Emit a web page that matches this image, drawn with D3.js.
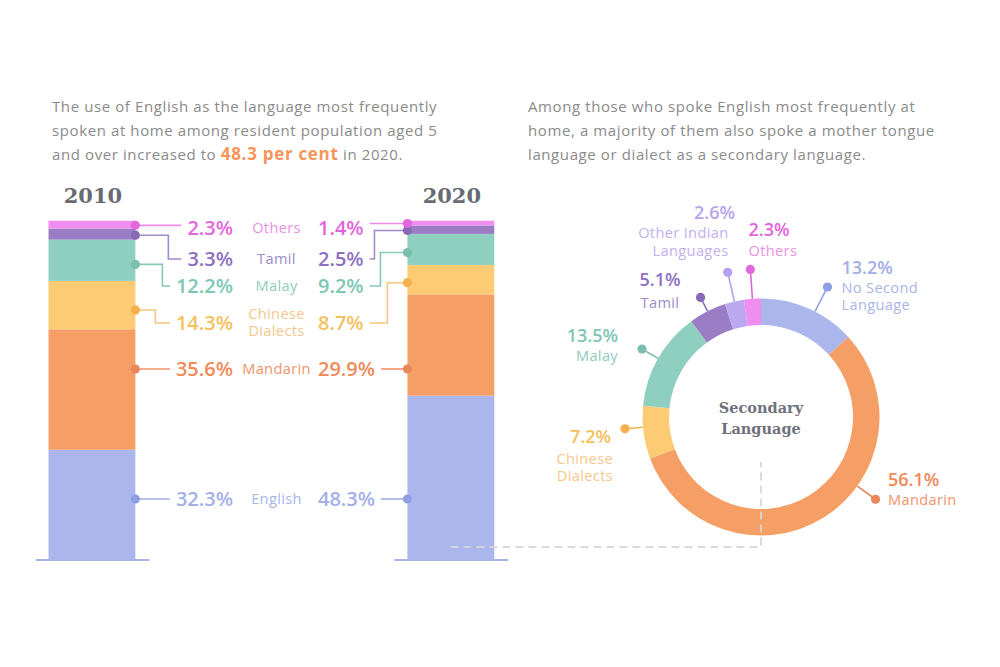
<!DOCTYPE html>
<html>
<head>
<meta charset="utf-8">
<script src="https://cdn.jsdelivr.net/npm/d3@7"></script>
<style>
  html, body { margin: 0; padding: 0; background: #ffffff; }
  svg { display: block; }
</style>
</head>
<body>
<svg id="chart" width="1000" height="667" font-family="'Open Sans', 'Noto Sans', sans-serif"></svg>
<script>
// ---------------- DATA ----------------
const years = ["2010", "2020"];
const languages = ["English", "Mandarin", "Chinese Dialects", "Malay", "Tamil", "Others"];
const share2010 = [32.3, 35.6, 14.3, 12.2, 3.3, 2.3];
const share2020 = [48.3, 29.9, 8.7, 9.2, 2.5, 1.4];

const secondaryCats = ["No Second Language", "Mandarin", "Chinese Dialects", "Malay", "Tamil", "Other Indian Languages", "Others"];
const secondaryShare = [13.2, 56.1, 7.2, 13.5, 5.1, 2.6, 2.3];

const introLeft = [
  "The use of English as the language most frequently",
  "spoken at home among resident population aged 5"
];
const introLeftLast = ["and over increased to ", "48.3 per cent", " in 2020."];
const introRight = [
  "Among those who spoke English most frequently at",
  "home, a majority of them also spoke a mother tongue",
  "language or dialect as a secondary language."
];
const centerTitle = ["Secondary", "Language"];

// ---------------- STYLE / LAYOUT ----------------
const serif = "'DejaVu Serif', 'Liberation Serif', serif";
const barColor = {
  "English": "#abb7ec", "Mandarin": "#f59e65", "Chinese Dialects": "#fdcb74",
  "Malay": "#8fcfc0", "Tamil": "#9a7dc4", "Others": "#f08ef0",
  "No Second Language": "#abb7ec", "Other Indian Languages": "#bba8f0"
};
const dotColor = {
  "English": "#8d9fe0", "Mandarin": "#e8875a", "Chinese Dialects": "#f6b04e",
  "Malay": "#7bbfae", "Tamil": "#876ab6", "Others": "#e266de",
  "No Second Language": "#8d9fe0", "Other Indian Languages": "#b59ff0"
};
const pctColor = {
  "English": "#a2afe9", "Mandarin": "#f08a59", "Chinese Dialects": "#f6c05d",
  "Malay": "#7dc7b5", "Tamil": "#8d70bf", "Others": "#e465db",
  "No Second Language": "#a2afe9", "Other Indian Languages": "#b8a3ee"
};
const nameColor = {
  "English": "#aab4e6", "Mandarin": "#f0936b", "Chinese Dialects": "#f6c88c",
  "Malay": "#8fcbbd", "Tamil": "#9c8ac6", "Others": "#ea90e6",
  "No Second Language": "#aab4e6", "Other Indian Languages": "#c2b0f0"
};
const lineColor = {
  "English": "#9fade6", "Mandarin": "#f0916a", "Chinese Dialects": "#f8c67c",
  "Malay": "#88c9b9", "Tamil": "#a08bcb", "Others": "#ee8cea"
};

// label rows for the bar annotations (centre y of each language's label row)
const labelRowY = { "Others": 228, "Tamil": 259, "Malay": 286, "Chinese Dialects": 323, "Mandarin": 369, "English": 499 };
// horizontal offset of the elbow from the bar edge
const elbowOffset = { "Tamil": 33, "Malay": 27, "Chinese Dialects": 20 };

const svg = d3.select("#chart");
const textGrey = "#8a8a8a";

// ---------------- INTRO TEXT ----------------
const introG = svg.append("g").attr("font-size", 15).attr("letter-spacing", 0.6).attr("fill", textGrey);
introLeft.forEach((t, i) => {
  introG.append("text").attr("x", 52).attr("y", 107 + i * 24).attr("dy", "0.35em").text(t);
});
const last = introG.append("text").attr("x", 52).attr("y", 155).attr("dy", "0.35em");
last.append("tspan").text(introLeftLast[0]);
last.append("tspan").attr("font-weight", 700).attr("font-size", 17).attr("letter-spacing", 0.7)
  .attr("fill", "#f5955a").text(introLeftLast[1]);
last.append("tspan").text(introLeftLast[2]);

introRight.forEach((t, i) => {
  introG.append("text").attr("x", 528).attr("y", 107 + i * 24).attr("dy", "0.35em").text(t);
});

// ---------------- STACKED BARS ----------------
const x = d3.scaleBand().domain(years).range([48.5, 494.3]).paddingInner(0.758).paddingOuter(0);
const y = d3.scaleLinear().domain([0, 100]).range([559, 220.7]);

const shares = { "2010": share2010, "2020": share2020 };
const stackRows = years.map(yr => {
  const row = { year: yr };
  languages.forEach((l, i) => row[l] = shares[yr][i]);
  return row;
});
const stack = d3.stack().keys(languages)(stackRows);

const barsG = svg.append("g");
barsG.selectAll("g.layer").data(stack).join("g").attr("class", "layer")
  .attr("fill", d => barColor[d.key])
  .selectAll("rect").data(d => d).join("rect")
  .attr("x", d => x(d.data.year))
  .attr("width", x.bandwidth())
  .attr("y", d => y(d[1]))
  .attr("height", d => y(d[0]) - y(d[1]));

// baselines
years.forEach(yr => {
  barsG.append("line")
    .attr("x1", x(yr) - 13).attr("x2", x(yr) + x.bandwidth() + 14)
    .attr("y1", y(0) + 1).attr("y2", y(0) + 1)
    .attr("stroke", "#a9b5ea").attr("stroke-width", 2);
});

// year titles
years.forEach(yr => {
  svg.append("text").attr("x", x(yr) + x.bandwidth() / 2 + 1).attr("y", 196).attr("dy", "0.35em")
    .attr("text-anchor", "middle").attr("font-family", serif).attr("font-weight", 700)
    .attr("font-size", 21).attr("fill", "#686b72").text(yr);
});

// annotations
const annG = svg.append("g");
const nameX = 276.5;
languages.forEach((lang, li) => {
  const rowY = labelRowY[lang];
  const nameLines = lang === "Chinese Dialects" ? ["Chinese", "Dialects"] : [lang];
  nameLines.forEach((nl, k) => {
    annG.append("text").attr("x", nameX)
      .attr("y", rowY + (nameLines.length > 1 ? (k === 0 ? -9 : 8) : 0)).attr("dy", "0.35em")
      .attr("text-anchor", "middle").attr("font-size", 14.6).attr("letter-spacing", 0.35)
      .attr("fill", nameColor[lang]).text(nl);
  });

  years.forEach((yr, yi) => {
    const layer = stack[li][yi];
    const top = y(layer[1]), bot = y(layer[0]);
    const dotY = (bot - top) > 80 ? rowY : top + (bot - top) * 0.6;
    const left = yi === 0;
    const edgeX = left ? x(yr) + x.bandwidth() : x(yr);
    const val = shares[yr][li];
    const t = annG.append("text")
      .attr("x", left ? 233 : 318).attr("y", rowY).attr("dy", "0.35em")
      .attr("text-anchor", left ? "end" : "start")
      .attr("font-size", 20).attr("font-weight", 600).attr("fill", pctColor[lang])
      .text(d3.format(".1f")(val) + "%");
    const bb = t.node().getBBox();
    const endX = left ? bb.x - 6 : bb.x + bb.width + 6;
    let path;
    if (Math.abs(dotY - rowY) < 6) {
      path = `M${edgeX},${dotY}H${endX}`;
    } else {
      const ex = left ? edgeX + elbowOffset[lang] : edgeX - elbowOffset[lang];
      path = `M${edgeX},${dotY}H${ex}V${rowY}H${endX}`;
    }
    annG.append("path").attr("d", path).attr("fill", "none")
      .attr("stroke", lineColor[lang]).attr("stroke-width", 1.6);
    annG.append("circle").attr("cx", edgeX).attr("cy", dotY).attr("r", 4.6).attr("fill", dotColor[lang]);
  });
});

// ---------------- DONUT ----------------
const cx = 761, cy = 417, rIn = 92, rOut = 118.5;
const donutG = svg.append("g").attr("transform", `translate(${cx},${cy})`);
const pie = d3.pie().sort(null).value(d => d.v).startAngle(0).endAngle(2 * Math.PI);
const arcs = pie(secondaryCats.map((c, i) => ({ c, v: secondaryShare[i] })));
const arc = d3.arc().innerRadius(rIn).outerRadius(rOut);
donutG.selectAll("path").data(arcs).join("path")
  .attr("d", arc).attr("fill", d => barColor[d.data.c]);

centerTitle.forEach((t, i) => {
  donutG.append("text").attr("x", 0).attr("y", -9 + i * 21).attr("dy", "0.35em")
    .attr("text-anchor", "middle").attr("font-family", serif).attr("font-weight", 700)
    .attr("font-size", 14.5).attr("fill", "#6f727b").text(t);
});

// label layout: position within slice (0..1), leader dot radius, label text placement
const donutLabels = {
  "No Second Language": { f: 0.57, r: 146, anchor: "start", px: 841.5, py: 268, lines: ["No Second", "Language"], lx: 841.5, ly: [288, 305] },
  "Mandarin": { f: 0.387, r: 141, anchor: "start", px: 888, py: 480, lines: ["Mandarin"], lx: 888, ly: [500] },
  "Chinese Dialects": { f: 0.6, r: 136.5, anchor: "end", px: 611, py: 437, lines: ["Chinese", "Dialects"], lx: 613, ly: [459, 476] },
  "Malay": { f: 0.5, r: 137, anchor: "end", px: 618, py: 336, lines: ["Malay"], lx: 618, ly: [356] },
  "Tamil": { f: 0.5, r: 134, anchor: "middle", px: 660, py: 280, lines: ["Tamil"], lx: 660, ly: [303] },
  "Other Indian Languages": { f: 0.5, r: 148.5, anchor: "end", px: 735, py: 213, lines: ["Other Indian", "Languages"], lx: 728.5, ly: [233, 251] },
  "Others": { f: 0.5, r: 148, anchor: "start", px: 748.5, py: 230, lines: ["Others"], lx: 748.5, ly: [251] }
};

const dlG = svg.append("g");
arcs.forEach(a => {
  const c = a.data.c, L = donutLabels[c];
  const ang = a.startAngle + (a.endAngle - a.startAngle) * L.f;
  const sx = cx + rOut * Math.sin(ang), sy = cy - rOut * Math.cos(ang);
  const dx = cx + L.r * Math.sin(ang), dy = cy - L.r * Math.cos(ang);
  dlG.append("line").attr("x1", sx).attr("y1", sy).attr("x2", dx).attr("y2", dy)
    .attr("stroke", dotColor[c]).attr("stroke-width", 1.6);
  dlG.append("circle").attr("cx", dx).attr("cy", dy).attr("r", 4.6).attr("fill", dotColor[c]);
  dlG.append("text").attr("x", L.px).attr("y", L.py).attr("dy", "0.35em")
    .attr("text-anchor", L.anchor).attr("font-size", 18).attr("font-weight", 600)
    .attr("fill", pctColor[c]).text(d3.format(".1f")(a.data.v) + "%");
  L.lines.forEach((ln, k) => {
    dlG.append("text").attr("x", L.lx).attr("y", L.ly[k]).attr("dy", "0.35em")
      .attr("text-anchor", L.anchor).attr("font-size", 14.6).attr("letter-spacing", 0.35)
      .attr("fill", nameColor[c]).text(ln);
  });
});

// dashed connector from 2020 English bar to donut
svg.append("path")
  .attr("d", `M${x("2020") + 43},547H${cx}V462`)
  .attr("fill", "none").attr("stroke", "#d6d6d6").attr("stroke-width", 2)
  .attr("stroke-dasharray", "8,5").attr("opacity", 0.9);
</script>
</body>
</html>
